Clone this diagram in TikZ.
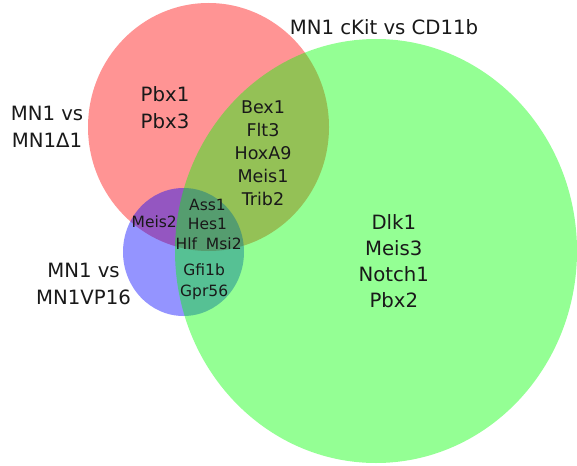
\documentclass[tikz,border=0pt]{standalone}
\usepackage{fontspec}
\setmainfont{DejaVu Sans}
\begin{document}
\begin{tikzpicture}[x=1pt,y=-1pt,
  setcirc/.style={fill opacity=0.42, draw=none},
  biglbl/.style={font=\fontsize{19.7}{24}\selectfont, anchor=base, inner sep=0pt, text=black!90},
  midlbl/.style={font=\fontsize{17.5}{21}\selectfont, anchor=base, inner sep=0pt, text=black!90},
  smalllbl/.style={font=\fontsize{15.5}{19}\selectfont, anchor=base, inner sep=0pt, text=black!90}]
\useasboundingbox (0,0) rectangle (577,465);
% sets
\fill[setcirc, red]   (208.5,127) ellipse [x radius=120.5, y radius=124];
\fill[setcirc, blue]  (183.5,252) ellipse [x radius=60.5, y radius=64];
\fill[setcirc, green] (376,251)   ellipse [x radius=201, y radius=212];
% set titles
\node[biglbl] (tGreen) at (384,34.3) {MN1 cKit vs CD11b};
\node[biglbl] (tRedA) at (47,120.7) {MN1 vs};
\node[biglbl] (tRedB) at (47,147.3) {MN1Δ1};
\node[biglbl] (tBlueA) at (83.5,277.7) {MN1 vs};
\node[biglbl] (tBlueB) at (83.5,304) {MN1VP16};
% red only
\node[biglbl] (pbxA) at (165,101.7) {Pbx1};
\node[biglbl] (pbxB) at (165,128.3) {Pbx3};
% red & green
\node[midlbl] (rgA) at (263,113.3) {Bex1};
\node[midlbl] (rgB) at (263,136.7) {Flt3};
\node[midlbl] (rgC) at (263,160) {HoxA9};
\node[midlbl] (rgD) at (263,182.7) {Meis1};
\node[midlbl] (rgE) at (263,205) {Trib2};
% red & blue
\node[smalllbl] (rb) at (154.2,227) {Meis2};
% all three
\node[smalllbl] (allA) at (207.5,210) {Ass1};
\node[smalllbl] (allB) at (207.5,229.7) {Hes1};
\node[smalllbl] (allC) at (186.3,249.3) {Hlf};
\node[smalllbl] (allD) at (223.8,249.3) {Msi2};
% blue & green
\node[smalllbl] (bgA) at (204.2,275) {Gfi1b};
\node[smalllbl] (bgB) at (204.2,296.5) {Gpr56};
% green only
\node[biglbl] (gA) at (393.8,229) {Dlk1};
\node[biglbl] (gB) at (393.8,255) {Meis3};
\node[biglbl] (gC) at (393.8,281) {Notch1};
\node[biglbl] (gD) at (393.8,307.7) {Pbx2};
\end{tikzpicture}
\end{document}
